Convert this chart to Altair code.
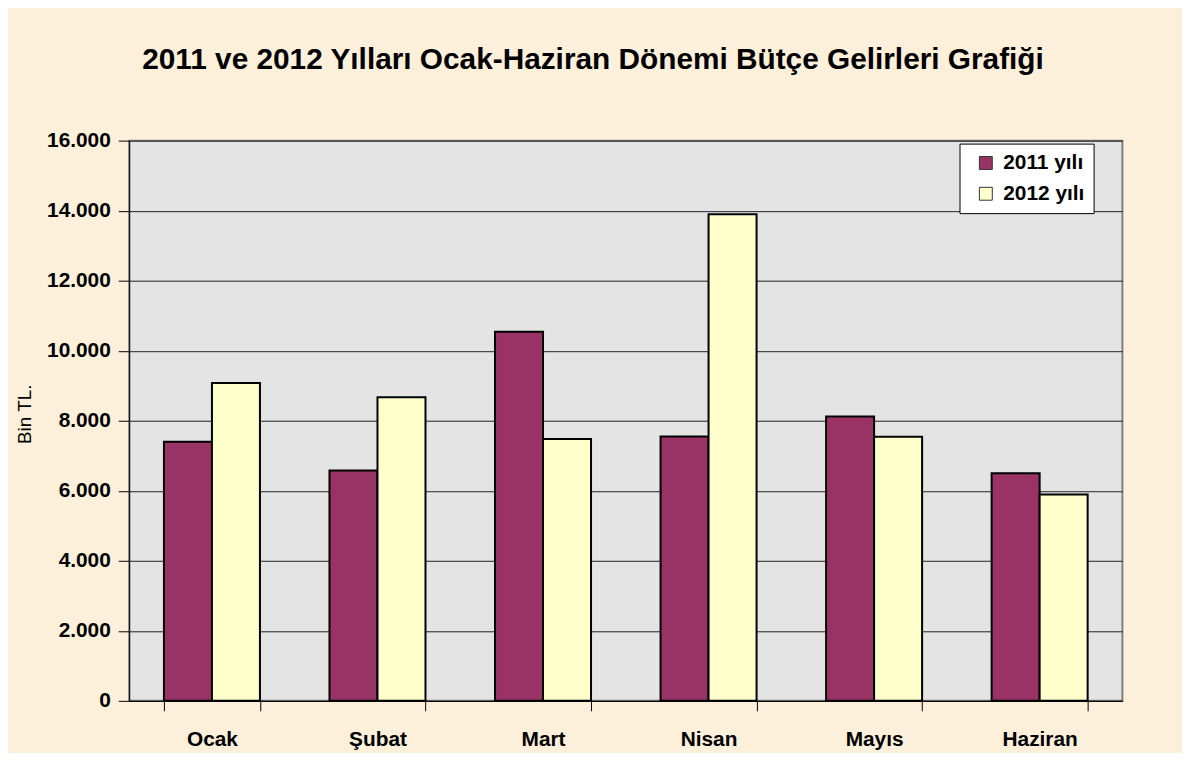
import altair as alt
import pandas as pd

months = ["Ocak", "Şubat", "Mart", "Nisan", "Mayıs", "Haziran"]
years = ["2011 yılı", "2012 yılı"]
values_2011 = [7400, 6580, 10540, 7550, 8120, 6500]
values_2012 = [9080, 8670, 7480, 13900, 7540, 5890]
y_ticks = [0, 2000, 4000, 6000, 8000, 10000, 12000, 14000, 16000]
colors = ["#993366", "#ffffcc"]

rows = []
for m, a, b in zip(months, values_2011, values_2012):
    rows.append({"Ay": m, "Yıl": years[0], "Değer": a})
    rows.append({"Ay": m, "Yıl": years[1], "Değer": b})
df = pd.DataFrame(rows)

FONT = "Liberation Sans"

bars = alt.Chart(df).mark_bar(stroke="black", strokeWidth=2).encode(
    x=alt.X(
        "Ay:N", sort=months,
        scale=alt.Scale(paddingInner=0.42, paddingOuter=0.21),
        axis=alt.Axis(
            title=None, labelAngle=0, tickBand="extent", labelFontWeight="bold",
            labelFontSize=21, labelFont=FONT, labelColor="black", tickSize=10,
            labelPadding=18, domainColor="black", tickColor="black", grid=False,
            domainWidth=1, tickWidth=1,
        ),
    ),
    xOffset=alt.XOffset("Yıl:N", sort=years, scale=alt.Scale(paddingInner=0, paddingOuter=0)),
    y=alt.Y(
        "Değer:Q",
        scale=alt.Scale(domain=[0, 16000], nice=False),
        axis=alt.Axis(
            values=y_ticks,
            labelExpr="replace(format(datum.value, ','), ',', '.')",
            title="Bin TL.", titleFont=FONT, titleFontSize=19, titleFontWeight="normal",
            titleColor="black", titleX=-95, titleY=275, titleAngle=270,
            labelFont=FONT, labelFontSize=21, labelFontWeight="bold", labelColor="black",
            tickSize=11, labelPadding=8, domainColor="black", tickColor="black",
            gridColor="#222222", gridWidth=1, domainWidth=1, tickWidth=1,
        ),
    ),
    color=alt.Color(
        "Yıl:N", sort=years,
        scale=alt.Scale(domain=years, range=colors),
        legend=alt.Legend(
            title=None, orient="none", legendX=836, legendY=3,
            fillColor="white", strokeColor="black", padding=9,
            symbolType="square", symbolSize=169, symbolStrokeColor="#333333",
            symbolStrokeWidth=1, symbolOffset=7, labelFont=FONT, labelFontSize=21,
            labelFontWeight="bold", labelColor="black", labelOffset=7,
            rowPadding=9,
        ),
    ),
)

chart = bars.properties(
    width=1000,
    height=564,
    padding={"left": 122, "top": 131, "right": 60, "bottom": 50},
    autosize=alt.AutoSizeParams(type="none"),
    background="#fcf0da",
    title=alt.TitleParams(
        "2011 ve 2012 Yılları Ocak-Haziran Dönemi Bütçe Gelirleri Grafiği",
        font=FONT, fontSize=30, fontWeight="bold", color="black",
        anchor="middle", dx=-33, offset=55,
    ),
).configure_view(
    fill="#e4e4e4", stroke="#808080", strokeWidth=2,
)

chart.save("out.html", embed_options={"renderer": "svg", "actions": False})
